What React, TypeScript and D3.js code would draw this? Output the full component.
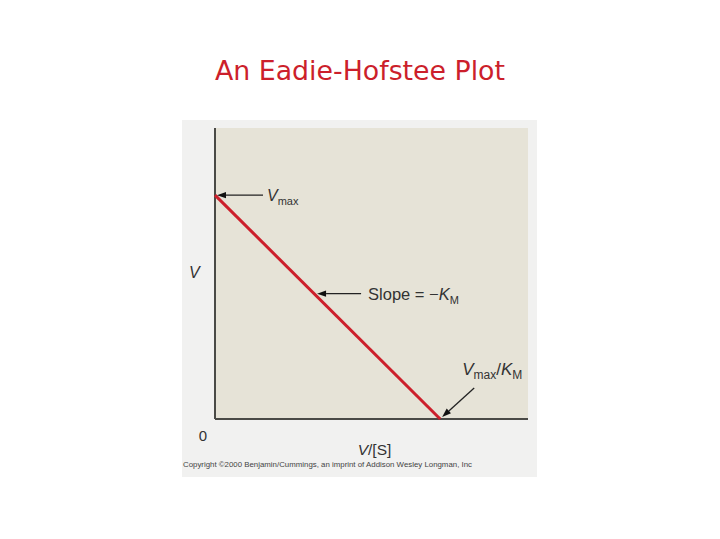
import { useMemo } from 'react'
import * as d3 from 'd3'

const WIDTH = 720
const HEIGHT = 539
const PANEL = { left: 182, top: 120, right: 537, bottom: 477 }
const PLOT = { left: 215, top: 128, right: 528, bottom: 419 }

// Eadie-Hofstee: V = Vmax - KM * (V/[S]); normalised so Vmax = 1 and Vmax/KM = 1
const X_DOMAIN: [number, number] = [0, 1.39]
const Y_DOMAIN: [number, number] = [0, 1.3]
const LINE_X = [0, 1]
const LINE_Y = [1, 0]
const SLOPE_POINT = { x: 0.44, y: 0.56 }

const TITLE = 'An Eadie-Hofstee Plot'
const Y_LABEL = 'V'
const ORIGIN_LABEL = '0'
const COPYRIGHT =
  'Copyright \u00a92000 Benjamin/Cummings, an imprint of Addison Wesley Longman, Inc'

const RED = '#cc1f2b'
const AXIS = '#4a4a46'
const LABEL_FONT = '"Liberation Sans", Arial, sans-serif'

function Arrow({ x1, y1, x2, y2 }: { x1: number; y1: number; x2: number; y2: number }) {
  // shaft from (x1,y1), head at (x2,y2)
  const angle = Math.atan2(y2 - y1, x2 - x1)
  const len = 9
  const half = 3.2
  const bx = x2 - len * Math.cos(angle)
  const by = y2 - len * Math.sin(angle)
  const px = -Math.sin(angle) * half
  const py = Math.cos(angle) * half
  return (
    <g>
      <line x1={x1} y1={y1} x2={bx} y2={by} stroke="#222" strokeWidth={1.3} />
      <path d={`M${x2},${y2}L${bx + px},${by + py}L${bx - px},${by - py}Z`} fill="#111" />
    </g>
  )
}

export default function App() {
  const x = useMemo(
    () => d3.scaleLinear().domain(X_DOMAIN).range([PLOT.left, PLOT.right]),
    []
  )
  const y = useMemo(
    () => d3.scaleLinear().domain(Y_DOMAIN).range([PLOT.bottom, PLOT.top]),
    []
  )
  const points = LINE_X.map((v, i) => [v, LINE_Y[i]] as [number, number])
  const line = d3
    .line<[number, number]>()
    .x((d) => x(d[0]))
    .y((d) => y(d[1]))

  const vmaxX = x(0)
  const vmaxY = y(LINE_Y[0])
  const interceptX = x(LINE_X[1])
  const interceptY = y(0)
  const slopeX = x(SLOPE_POINT.x)
  const slopeY = y(SLOPE_POINT.y)

  return (
    <svg
      width={WIDTH}
      height={HEIGHT}
      viewBox={`0 0 ${WIDTH} ${HEIGHT}`}
      style={{ position: 'fixed', left: 0, top: 0, background: '#fff' }}
    >
      <text
        x={WIDTH / 2}
        y={80}
        textAnchor="middle"
        fill={RED}
        fontFamily='"Comic Sans MS", "DejaVu Sans", sans-serif'
        fontSize={26}
        textLength={290}
        lengthAdjust="spacingAndGlyphs"
      >
        {TITLE}
      </text>

      <rect
        x={PANEL.left}
        y={PANEL.top}
        width={PANEL.right - PANEL.left}
        height={PANEL.bottom - PANEL.top}
        fill="#f1f1f0"
      />
      <rect
        x={PLOT.left}
        y={PLOT.top}
        width={PLOT.right - PLOT.left}
        height={PLOT.bottom - PLOT.top}
        fill="#e6e3d7"
      />

      <line x1={x(0)} x2={x(0)} y1={y(Y_DOMAIN[1])} y2={y(0)} stroke={AXIS} strokeWidth={2} />
      <line x1={x(0)} x2={x(X_DOMAIN[1])} y1={y(0)} y2={y(0)} stroke={AXIS} strokeWidth={2} />

      <path d={line(points) ?? undefined} stroke={RED} strokeWidth={3} fill="none" />

      <g fontFamily={LABEL_FONT} fill="#333">
        <Arrow x1={vmaxX + 48} y1={vmaxY} x2={vmaxX + 2} y2={vmaxY} />
        <text x={vmaxX + 52} y={vmaxY + 6} fontSize={16} fontStyle="italic">
          V
          <tspan fontSize={11} fontStyle="normal" dy={4}>max</tspan>
        </text>

        <Arrow x1={slopeX + 47} y1={slopeY} x2={slopeX + 3} y2={slopeY} />
        <text x={slopeX + 54} y={slopeY + 6} fontSize={16.5}>
          Slope = −
          <tspan fontStyle="italic">K</tspan>
          <tspan fontSize={11} dy={4}>M</tspan>
        </text>

        <Arrow x1={interceptX + 34} y1={interceptY - 31} x2={interceptX + 2} y2={interceptY - 2} />
        <text x={interceptX + 22} y={interceptY - 44} fontSize={17}>
          <tspan fontStyle="italic">V</tspan>
          <tspan fontSize={12} dy={4}>max</tspan>
          <tspan dy={-4}>/</tspan>
          <tspan fontStyle="italic">K</tspan>
          <tspan fontSize={12} dy={4}>M</tspan>
        </text>

        <text x={PLOT.left - 26} y={PLOT.top + 150} fontSize={16} fontStyle="italic">
          {Y_LABEL}
        </text>
        <text x={PLOT.left - 12} y={PLOT.bottom + 22} fontSize={15} textAnchor="middle">
          {ORIGIN_LABEL}
        </text>
        <text x={(PLOT.left + PLOT.right) / 2 + 3} y={PLOT.bottom + 36} fontSize={15.5} textAnchor="middle">
          <tspan fontStyle="italic">V</tspan>/[S]
        </text>
        <text
          x={PANEL.left + 1}
          y={PLOT.bottom + 48}
          fontSize={7.5}
          fill="#444"
          textLength={289}
          lengthAdjust="spacingAndGlyphs"
        >
          {COPYRIGHT}
        </text>
      </g>
    </svg>
  )
}
